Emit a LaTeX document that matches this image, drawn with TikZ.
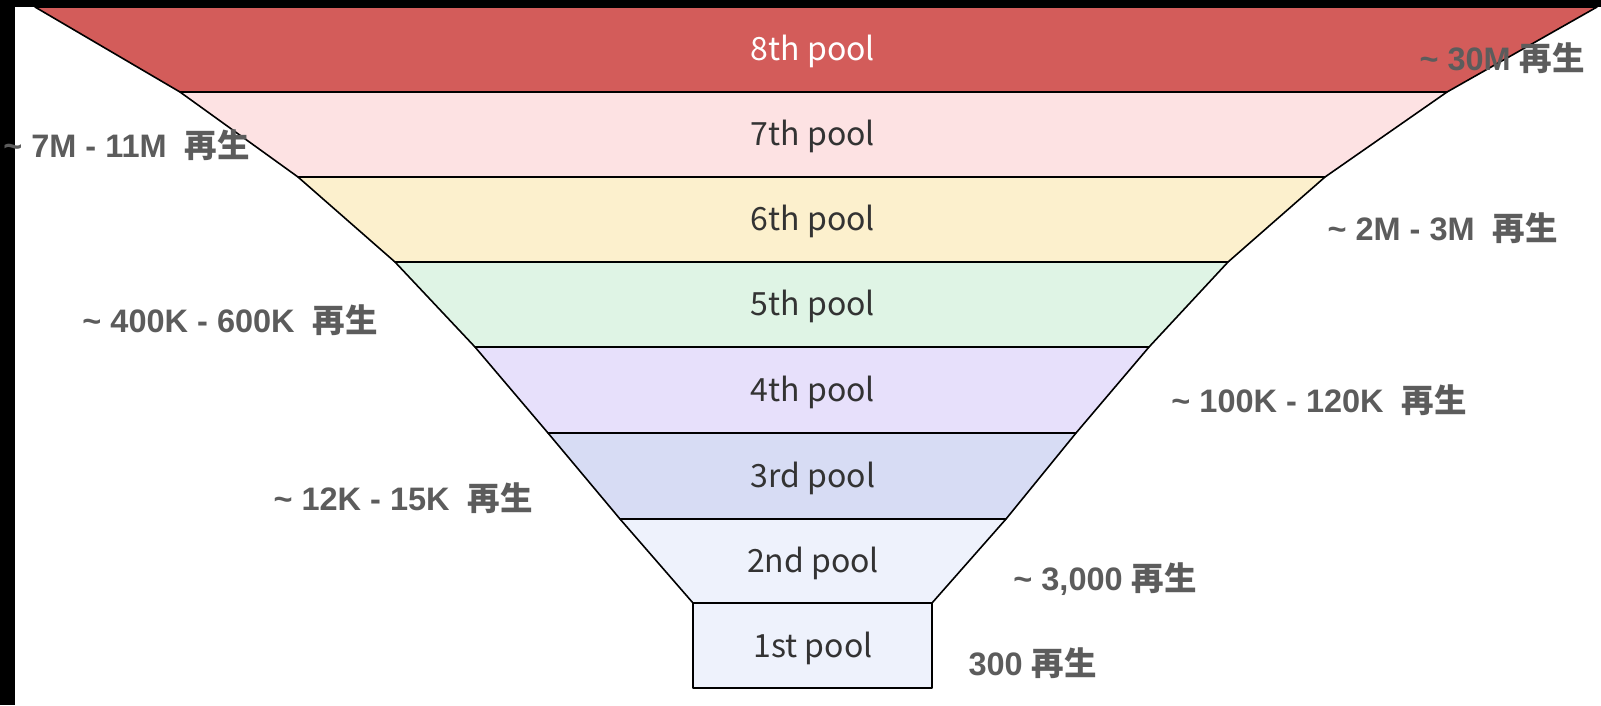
\documentclass[tikz,border=0pt]{standalone}
\usepackage{fontspec}
\newfontfamily\cjk{Noto Sans CJK JP}
\newfontfamily\sidefont{Liberation Sans}
\definecolor{c8}{HTML}{D35C5A}
\definecolor{c7}{HTML}{FDE2E3}
\definecolor{c6}{HTML}{FCF0CD}
\definecolor{c5}{HTML}{DFF4E5}
\definecolor{c4}{HTML}{E7E0FB}
\definecolor{c3}{HTML}{D7DCF4}
\definecolor{c2}{HTML}{EEF2FC}
\definecolor{c1}{HTML}{EEF2FC}
\definecolor{sidegray}{HTML}{5C5C5C}
\definecolor{pooltext}{HTML}{333333}
\newcommand{\sidetxt}[2]{{\sidefont #1}{\cjk #2}}
\tikzset{
  layer/.style={draw=black, line width=1.6pt, line join=round},
  poollabel/.style={font=\cjk\fontsize{32}{36}\selectfont, text=pooltext, inner sep=0pt},
  sidelabel/.style={font=\bfseries\fontsize{32.5}{36}\selectfont, text=sidegray, inner sep=0pt, anchor=east},
}
\begin{document}
\begin{tikzpicture}[x=1pt,y=-1pt]
\useasboundingbox (0,0) rectangle (1601,705);
\fill[white] (0,0) rectangle (1601,705);
% layers
\coordinate (L0) at (35,7);   \coordinate (R0) at (1597,7);
\coordinate (L1) at (180,92); \coordinate (R1) at (1447,92);
\coordinate (L2) at (298,177);\coordinate (R2) at (1325,177);
\coordinate (L3) at (395,262);\coordinate (R3) at (1228,262);
\coordinate (L4) at (475,347);\coordinate (R4) at (1149,347);
\coordinate (L5) at (548,433);\coordinate (R5) at (1076,433);
\coordinate (L6) at (620,519);\coordinate (R6) at (1006,519);
\coordinate (L7) at (693,603);\coordinate (R7) at (932,603);
\coordinate (L8) at (693,688);\coordinate (R8) at (932,688);
\filldraw[layer, fill=c8] (L0) -- (R0) -- (R1) -- (L1) -- cycle;
\filldraw[layer, fill=c7] (L1) -- (R1) -- (R2) -- (L2) -- cycle;
\filldraw[layer, fill=c6] (L2) -- (R2) -- (R3) -- (L3) -- cycle;
\filldraw[layer, fill=c5] (L3) -- (R3) -- (R4) -- (L4) -- cycle;
\filldraw[layer, fill=c4] (L4) -- (R4) -- (R5) -- (L5) -- cycle;
\filldraw[layer, fill=c3] (L5) -- (R5) -- (R6) -- (L6) -- cycle;
\filldraw[layer, fill=c2] (L6) -- (R6) -- (R7) -- (L7) -- cycle;
\filldraw[layer, fill=c1] (L7) -- (R7) -- (R8) -- (L8) -- cycle;
% black frame strips
\fill[black] (0,0) rectangle (1601,7);
\fill[black] (0,0) rectangle (15,705);
% pool labels
\node[poollabel, text=white] (p8) at (813,51) {8th pool};
\node[poollabel] (p7) at (813,136) {7th pool};
\node[poollabel] (p6) at (813,221) {6th pool};
\node[poollabel] (p5) at (813,306) {5th pool};
\node[poollabel] (p4) at (813,392) {4th pool};
\node[poollabel] (p3) at (813,478) {3rd pool};
\node[poollabel] (p2) at (813,563) {2nd pool};
\node[poollabel] (p1) at (813,648) {1st pool};
% side labels
\node[sidelabel] (s8) at (1585,58) {\sidetxt{\textasciitilde{} 30M }{再生}};
\node[sidelabel] (s7) at (250,145) {\sidetxt{\textasciitilde{} 7M - 11M\ \ }{再生}};
\node[sidelabel] (s6) at (1558,228) {\sidetxt{\textasciitilde{} 2M - 3M\ \ }{再生}};
\node[sidelabel] (s5) at (378,320) {\sidetxt{\textasciitilde{} 400K - 600K\ \ }{再生}};
\node[sidelabel] (s4) at (1467,400) {\sidetxt{\textasciitilde{} 100K - 120K\ \ }{再生}};
\node[sidelabel] (s3) at (533,498) {\sidetxt{\textasciitilde{} 12K - 15K\ \ }{再生}};
\node[sidelabel] (s2) at (1197,579) {\sidetxt{\textasciitilde{} 3,000 }{再生}};
\node[sidelabel] (s1) at (1097,663) {\sidetxt{300 }{再生}};
\end{tikzpicture}
\end{document}
